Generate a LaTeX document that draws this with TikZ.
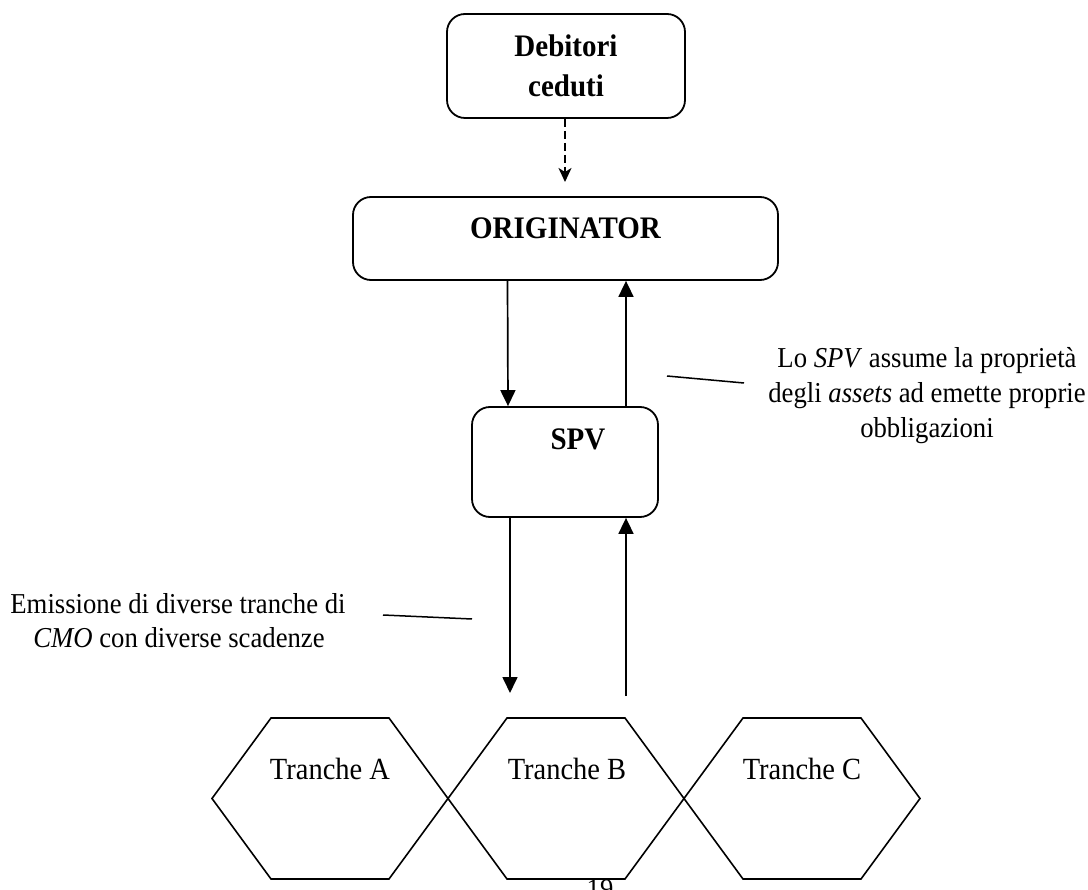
\documentclass[tikz,border=0pt]{standalone}
\usepackage{fontspec}
\usepackage{graphicx}
\setmainfont{Liberation Serif}
\usetikzlibrary{arrows.meta}
\newcommand{\tallt}[1]{\scalebox{1}[1.08]{#1}}
\tikzset{
  box/.style={draw, line width=1.8pt, rounded corners=18pt, inner sep=0pt},
  btext/.style={font=\fontsize{29}{40}\selectfont\bfseries, inner sep=0pt, align=center},
  atext/.style={font=\fontsize{26.7}{34}\selectfont, inner sep=0pt, anchor=base},
  htext/.style={font=\fontsize{28.5}{34}\selectfont, inner sep=0pt, anchor=base},
  arr/.style={line width=1.7pt, -{Triangle[length=16pt,width=15pt]}},
  darr/.style={line width=1.7pt, dash pattern=on 8pt off 4pt, -{Stealth[length=14pt,width=13pt,inset=4pt]}},
  lead/.style={line width=1.5pt},
  hex/.style={line width=1.6pt, line join=miter}
}
\begin{document}
\begin{tikzpicture}[x=1pt,y=-1pt]
\useasboundingbox (0,0) rectangle (1088,890);
% boxes
\node[box, minimum width=238pt, minimum height=104pt, btext] (deb) at (566,66) {\tallt{Debitori}\\\tallt{ceduti}};
\node[box, minimum width=425pt, minimum height=83pt] (orig) at (565.5,238.5) {};
\node[btext, anchor=base] (origt) at (565.5,239) {\tallt{ORIGINATOR}};
\node[box, minimum width=186pt, minimum height=110pt] (spv) at (565,462) {};
\node[btext, anchor=base] (spvt) at (578,450) {\tallt{SPV}};
% free ends
\coordinate (dtip) at (565,182);
\coordinate (c1) at (510,693);
\coordinate (c2) at (626,696);
% connectors
\draw[darr] (deb.south -| dtip) -- (dtip);
\draw[arr] ([xshift=-58pt]orig.south) -- ([xshift=-57pt]spv.north);
\draw[arr] ([xshift=61pt]spv.north) -- ([xshift=60.5pt]orig.south);
\draw[arr] (spv.south -| c1) -- (c1);
\draw[arr] (c2) -- (spv.south -| c2);
% hexagons
\draw[hex] (212,798.5) -- (271,718) -- (389,718) -- (448,798.5) -- (389,879) -- (271,879) -- cycle;
\draw[hex] (448,798.5) -- (507,718) -- (625,718) -- (684,798.5) -- (625,879) -- (507,879) -- cycle;
\draw[hex] (684,798.5) -- (743,718) -- (861,718) -- (920,798.5) -- (861,879) -- (743,879) -- cycle;
\node[htext] (ta) at (330,779) {\tallt{Tranche A}};
\node[htext] (tb) at (567,779) {\tallt{Tranche B}};
\node[htext] (tc) at (802,779) {\tallt{Tranche C}};
% annotations
\node[atext] (r1) at (927,368) {\tallt{Lo \textit{SPV} assume la propriet\`a}};
\node[atext] (r2) at (927,403) {\tallt{degli \textit{assets} ad emette proprie}};
\node[atext] (r3) at (927,438) {\tallt{obbligazioni}};
\coordinate (la) at (667,376);
\coordinate (lb) at (744,383);
\draw[lead] (la) -- (lb);
\node[atext] (l1) at (178,613) {\tallt{Emissione di diverse tranche di}};
\node[atext] (l2) at (179,647) {\tallt{\textit{CMO} con diverse scadenze}};
\coordinate (ma) at (383,615);
\coordinate (mb) at (472,619);
\draw[lead] (ma) -- (mb);
% page number (cut off at the lower edge, as in the reference)
\node[atext] (pg) at (600,897) {19};
\end{tikzpicture}
\end{document}
